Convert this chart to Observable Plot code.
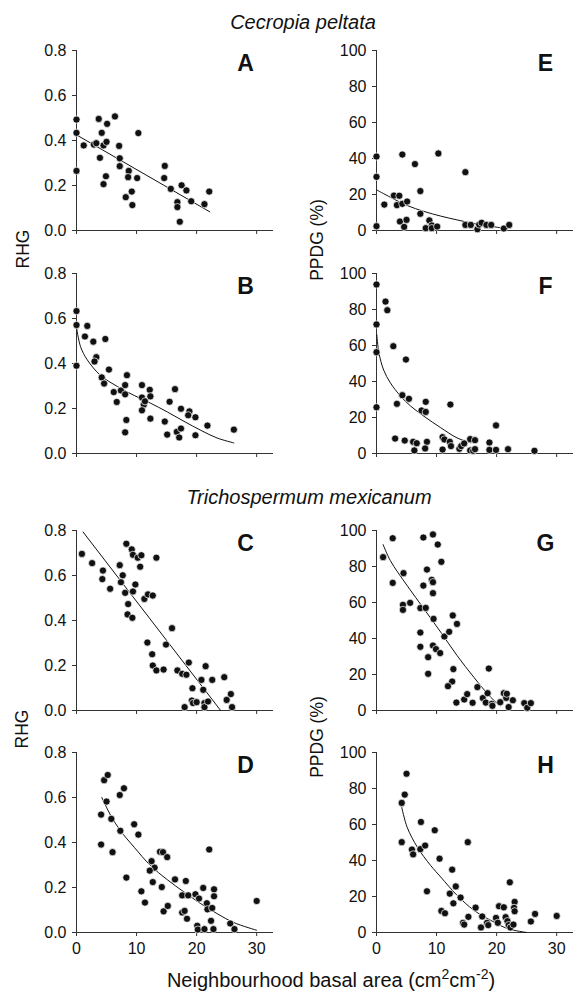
<!DOCTYPE html>
<html>
<head>
<meta charset="utf-8">
<script src="https://cdn.jsdelivr.net/npm/d3@7"></script>
<script src="https://cdn.jsdelivr.net/npm/@observablehq/plot@0.6"></script>
<style>
  html, body { margin: 0; padding: 0; background: #fff; }
  #fig { position: relative; width: 577px; height: 992px; overflow: hidden; font-family: "Liberation Sans", Arial, sans-serif; color: #111; }
  .p { position: absolute; }
  .lab { position: absolute; white-space: nowrap; line-height: 1; transform: translate(-50%, -50%); }
  .rot { transform: translate(-50%, -50%) rotate(-90deg); }
</style>
</head>
<body>
<div id="fig"></div>
<script>
// ---------- tick labels ----------
const xTicks = [0, 10, 20, 30];
const rhgTicks = [0, 0.2, 0.4, 0.6, 0.8];
const ppdgTicks = [0, 20, 40, 60, 80, 100];
const panelLetters = ["A", "B", "C", "D", "E", "F", "G", "H"];

// ---------- Panel A (Cecropia, RHG) ----------
const aX = [0,0,0,1.2,2.9,3.3,3.7,4.2,4.5,5.0,5.1,3.9,4.9,4.5,6.4,7.1,7.2,7.2,8.7,8.6,8.2,9.2,9.3,10.1,10.3,14.7,14.6,15.7,16.8,16.8,17.2,17.5,18.3,19.1,21.3,22.1];
const aY = [0.493,0.434,0.265,0.378,0.382,0.388,0.496,0.434,0.378,0.394,0.474,0.323,0.241,0.206,0.507,0.376,0.321,0.286,0.265,0.237,0.148,0.173,0.113,0.233,0.433,0.287,0.233,0.185,0.126,0.104,0.039,0.201,0.178,0.130,0.117,0.173];
const aFitX = [0, 22.2];
const aFitY = [0.425, 0.083];

// ---------- Panel B (Cecropia, RHG) ----------
const bX = [0,0,0,1.4,1.8,2.8,4.8,3.3,3.0,5.4,4.2,4.6,6.2,6.7,7.4,8.1,8.1,8.4,8.3,8.1,10.9,10.9,11.2,11.4,10.9,12.2,12.3,12.3,14.7,15.1,15.5,16.4,16.7,17.1,17.4,17.4,18.8,18.6,19.8,19.8,21.8,26.2];
const bY = [0.633,0.571,0.390,0.520,0.567,0.497,0.509,0.428,0.409,0.373,0.338,0.311,0.273,0.229,0.280,0.304,0.263,0.348,0.149,0.094,0.304,0.249,0.217,0.232,0.192,0.283,0.254,0.155,0.142,0.084,0.230,0.286,0.096,0.071,0.111,0.199,0.187,0.170,0.161,0.081,0.124,0.106];
const bFitX = [0, 0.67, 1.8, 4, 6.8, 9.6, 12.3, 15.1, 17.9, 20.7, 23.4, 26.2];
const bFitY = [0.561, 0.475, 0.416, 0.347, 0.298, 0.258, 0.224, 0.185, 0.143, 0.103, 0.069, 0.047];

// ---------- Panel C (Trichospermum, RHG) ----------
const cX = [0.9,2.6,4.4,4.3,5.6,7.2,7.7,7.4,8.1,8.6,8.5,9.3,8.3,9.2,9.4,10.2,10.8,10.6,9.8,9.4,11.3,11.9,12.7,13.3,15.9,14.9,11.8,12.6,12.7,13.3,14.5,16.8,17.6,18.3,18.7,19.3,18.0,19.2,19.4,20.0,20.8,21.1,21.5,21.3,21.3,21.9,22.6,24.6,25.7,25.0,25.9];
const cY = [0.696,0.655,0.622,0.584,0.541,0.646,0.601,0.570,0.523,0.473,0.427,0.412,0.741,0.716,0.692,0.679,0.690,0.639,0.560,0.529,0.496,0.516,0.511,0.679,0.366,0.293,0.302,0.250,0.200,0.178,0.182,0.178,0.163,0.159,0.213,0.099,0.015,0.044,0.033,0.037,0.136,0.092,0.197,0.033,0.015,0.040,0.136,0.148,0.073,0.047,0.015];
const cFitX = [1.1, 24.0];
const cFitY = [0.793, 0];

// ---------- Panel D (Trichospermum, RHG) ----------
const dX = [4.6,5.2,7.9,7.2,5.0,4.1,5.8,7.3,4.1,6.0,9.6,10.3,8.3,10.8,11.4,12.5,13.0,12.2,12.7,13.9,14.4,15.1,14.2,14.5,15.2,16.4,17.6,18.2,18.6,17.6,18.0,18.4,19.8,20.4,20.1,20.2,21.3,21.1,21.7,21.8,22.1,22.6,22.4,22.9,22.9,22.8,25.6,26.3,30.0];
const dY = [0.677,0.700,0.641,0.611,0.582,0.524,0.505,0.452,0.391,0.357,0.481,0.435,0.244,0.183,0.133,0.317,0.288,0.275,0.224,0.359,0.357,0.335,0.202,0.094,0.118,0.236,0.165,0.229,0.165,0.089,0.096,0.061,0.170,0.151,0.030,0.013,0.015,0.198,0.130,0.103,0.369,0.109,0.052,0.192,0.161,0.015,0.040,0.015,0.140];
const dFitX = [4.2, 5.7, 7.3, 9.6, 12.3, 15.1, 17.9, 20.7, 23.4, 26.2, 30.0];
const dFitY = [0.601, 0.520, 0.453, 0.379, 0.298, 0.235, 0.180, 0.128, 0.084, 0.044, 0.010];

// ---------- Panel E (Cecropia, PPDG) ----------
const eX = [0,0,0,1.3,2.9,3.8,3.4,4.3,5.1,4.3,3.9,4.6,5.0,6.4,7.3,7.3,8.2,8.8,9.2,9.2,10.1,10.3,14.8,14.8,15.7,16.8,17.1,17.5,18.3,19.1,21.2,22.1];
const eY = [41.1,29.8,2.4,14.4,19.4,19.3,14.1,14.8,16.1,42.2,5.0,2.0,5.9,36.9,21.9,9.3,1.3,5.6,2.8,1.3,2.2,42.8,32.4,3.1,3.1,0.7,3.3,4.3,3.1,3.1,1.1,3.1];
const eFitX = [0, 2.3, 5.1, 7.9, 10.7, 13.4, 16.2, 19.0, 21.4];
const eFitY = [22.6, 18.5, 13.9, 10.6, 8.0, 5.9, 3.9, 2.4, 1.1];

// ---------- Panel F (Cecropia, PPDG) ----------
const fX = [0,0,0,0,1.5,1.8,2.8,4.9,4.3,5.4,3.4,3.1,4.7,6.1,6.7,6.3,7.5,8.2,8.2,8.4,8.1,12.3,11.0,11.3,12.2,12.4,11.0,13.8,14.1,14.6,15.6,15.6,16.1,16.4,16.4,18.8,18.8,19.9,19.9,21.9,26.3];
const fY = [93.9,71.7,56.3,25.7,84.4,79.6,59.6,52.2,32.4,30.4,27.6,8.3,7.2,6.5,5.7,1.7,23.9,28.7,23.1,6.5,2.8,27.2,9.1,7.8,6.5,4.1,2.2,2.6,4.1,5.6,8.0,1.7,1.5,7.4,2.4,6.1,2.0,15.6,2.0,2.4,1.5];
const fFitX = [0.05, 0.4, 1.2, 2.3, 4.0, 5.7, 7.9, 10.7, 13.4, 15.7];
const fFitY = [66, 56, 46.3, 39.3, 31.9, 26.3, 20.7, 14.3, 8.7, 5.9];

// ---------- Panel G (Trichospermum, PPDG) ----------
const gX = [1.1,2.7,2.7,4.5,4.4,4.4,5.6,7.3,8.2,7.8,9.4,10.2,10.8,8.4,7.8,9.2,9.4,9.4,9.5,7.3,7.3,9.4,9.9,10.6,8.6,8.6,11.3,12.1,12.7,13.4,12.8,12.6,11.9,13.3,14.6,15.1,16.0,16.8,17.7,18.2,18.5,18.7,19.2,19.3,20.6,21.2,21.6,21.7,22.0,22.7,24.6,25.1,25.7];
const gY = [85.2,95.7,70.9,76.3,58.7,55.9,59.8,56.9,57.0,96.1,97.8,92.2,82.6,78.3,69.4,72.6,71.3,65.2,50.9,43.3,35.4,36.1,34.1,31.9,29.6,20.4,41.1,43.7,52.8,48.1,23.0,16.1,13.5,4.4,6.1,9.1,4.3,13.0,6.9,4.4,9.6,23.3,3.7,2.6,4.6,9.6,7.0,9.3,1.9,5.7,4.1,1.5,4.1];
const gFitX = [1.1, 2.3, 5.1, 7.9, 10.7, 13.4, 16.2, 19.0, 20.6];
const gFitY = [92.2, 83.3, 69.4, 56.5, 43.5, 30.6, 18.5, 7.4, 2.6];

// ---------- Panel H (Trichospermum, PPDG) ----------
const hX = [4.2,4.7,5.0,4.2,5.9,6.1,7.4,7.3,8.1,9.7,8.4,10.5,12.6,13.2,12.2,12.8,14.0,10.8,11.4,15.2,14.4,14.6,15.3,16.5,17.6,17.4,18.4,18.6,19.9,20.2,20.4,21.2,21.5,21.8,22.0,22.3,22.2,22.8,23.0,22.9,23.0,25.7,26.4,30.0];
const hY = [72.0,76.6,88.2,50.2,46.1,43.4,61.4,46.3,48.3,56.8,22.9,41.0,34.9,25.6,21.6,16.2,19.4,12.0,10.7,50.2,5.4,4.4,8.7,13.8,8.9,2.8,5.4,4.1,8.1,5.4,14.6,14.0,8.5,6.3,4.1,2.8,27.9,4.4,17.0,13.7,11.8,6.1,10.3,9.2];
const hFitX = [4.2, 5.1, 6.8, 9.0, 10.7, 13.4, 16.2, 19.0, 21.8, 25.0];
const hFitY = [69.6, 58.5, 47.4, 37.3, 30.8, 20.7, 12.4, 6.8, 2.2, 0];

// ---------- layout ----------
const FONT = '"Liberation Sans", Arial, sans-serif';
const fig = document.getElementById("fig");

function panel(xs, ys, fxs, fys, letter, isRHG, showX, right) {
  const pts = xs.map((x, i) => ({x, y: ys[i]}));
  const fit = fxs.map((x, i) => ({x, y: fys[i]}));
  const yTicks = isRHG ? rhgTicks : ppdgTicks;
  const yFmt = isRHG ? d3.format(".1f") : d3.format("d");
  return Plot.plot({
    width: right ? 277 : 290,
    height: 220,
    marginLeft: 76,
    marginRight: right ? 4 : 17,
    marginTop: 10,
    marginBottom: 30,
    style: {fontFamily: FONT, fontSize: "16px", color: "#111", background: "transparent", overflow: "visible"},
    x: {domain: [0, 32.8]},
    y: {domain: isRHG ? [0, 0.8] : [0, 100]},
    marks: [
      Plot.axisY({ticks: yTicks, tickFormat: yFmt, tickSize: 4, tickPadding: 6, label: null, stroke: "#333"}),
      Plot.axisX({ticks: xTicks, tickFormat: showX ? (d => String(d)) : (() => ""), tickSize: 4, tickPadding: 6, label: null, stroke: "#333"}),
      Plot.ruleX([0], {stroke: "#333"}),
      Plot.ruleY([0], {stroke: "#333"}),
      Plot.line(fit, {x: "x", y: "y", curve: "catmull-rom", stroke: "#111", strokeWidth: 1}),
      Plot.dot(pts, {x: "x", y: "y", r: 3.6, fill: "#111", stroke: "#fff", strokeWidth: 0.7}),
      Plot.text([letter], {frameAnchor: "top-right", dx: -28, dy: 13, text: d => d, fontSize: 23, fontWeight: "bold", textAnchor: "middle", lineAnchor: "middle", fill: "#111"})
    ]
  });
}

const specs = [
  [aX, aY, aFitX, aFitY, panelLetters[0], true, false, false, 40],
  [bX, bY, bFitX, bFitY, panelLetters[1], true, false, false, 263],
  [cX, cY, cFitX, cFitY, panelLetters[2], true, false, false, 520],
  [dX, dY, dFitX, dFitY, panelLetters[3], true, true, false, 742],
  [eX, eY, eFitX, eFitY, panelLetters[4], false, false, true, 40],
  [fX, fY, fFitX, fFitY, panelLetters[5], false, false, true, 263],
  [gX, gY, gFitX, gFitY, panelLetters[6], false, false, true, 520],
  [hX, hY, hFitX, hFitY, panelLetters[7], false, true, true, 742]
];

for (const s of specs) {
  const el = panel(s[0], s[1], s[2], s[3], s[4], s[5], s[6], s[7]);
  el.classList.add("p");
  el.style.left = (s[7] ? 300 : 0) + "px";
  el.style.top = s[8] + "px";
  fig.appendChild(el);
}

function label(text, x, y, size, opts = {}) {
  const d = document.createElement("div");
  d.className = "lab" + (opts.rot ? " rot" : "");
  d.style.left = x + "px";
  d.style.top = y + "px";
  d.style.fontSize = size + "px";
  if (opts.italic) d.style.fontStyle = "italic";
  if (opts.html) d.innerHTML = text; else d.textContent = text;
  fig.appendChild(d);
}

label("Cecropia peltata", 303, 22, 20, {italic: true});
label("Trichospermum mexicanum", 309, 497, 20, {italic: true});
label("RHG", 24, 249, 17.5, {rot: true});
label("RHG", 23, 729, 17.5, {rot: true});
label("PPDG (%)", 318, 240, 17.5, {rot: true});
label("PPDG (%)", 318, 737, 17.5, {rot: true});
label('Neighbourhood basal area (cm<sup style="font-size:0.7em;vertical-align:0.55em;line-height:0">2</sup>cm<sup style="font-size:0.7em;vertical-align:0.55em;line-height:0">-2</sup>)', 331, 980, 20, {html: true});
</script>
</body>
</html>
